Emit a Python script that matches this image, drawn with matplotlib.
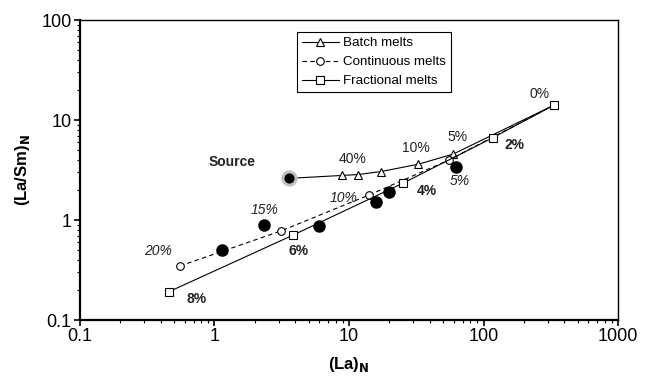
import matplotlib.pyplot as plt
from matplotlib.ticker import LogLocator, NullFormatter, FuncFormatter

plt.rcParams['font.family'] = ['Liberation Sans', 'DejaVu Sans']

# model curves, (La)N vs (La/Sm)N
batch_x = [3.58, 8.83, 11.7, 17.2, 32.7, 59.6, 334]
batch_y = [2.61, 2.79, 2.85, 3.05, 3.61, 4.57, 14.1]

cont_x = [0.553, 3.11, 14.1, 55.4, 334]
cont_y = [0.347, 0.776, 1.78, 3.98, 14.1]

frac_x = [0.459, 3.85, 25.1, 117, 334]
frac_y = [0.192, 0.708, 2.33, 6.65, 14.1]

# observed samples
obs_x = [1.13, 2.35, 6.02, 15.9, 19.8, 62.1]
obs_y = [0.505, 0.897, 0.871, 1.50, 1.92, 3.41]

source_x = [3.58]
source_y = [2.61]

# percent labels: (text, x, y, weight, style)
labels = [
    ("Source", 1.35, 3.8, 'bold', 'normal'),
    ("40%", 10.66, 4.05, 'normal', 'normal'),
    ("10%", 31.5, 5.28, 'normal', 'normal'),
    ("5%", 63.8, 6.81, 'normal', 'normal'),
    ("0%", 263, 18.1, 'normal', 'normal'),
    ("2%", 169, 5.62, 'bold', 'normal'),
    ("5%", 66.1, 2.45, 'normal', 'italic'),
    ("4%", 37.8, 1.95, 'bold', 'normal'),
    ("10%", 9.18, 1.65, 'normal', 'italic'),
    ("15%", 2.37, 1.26, 'normal', 'italic'),
    ("20%", 0.382, 0.493, 'normal', 'italic'),
    ("6%", 4.25, 0.493, 'bold', 'normal'),
    ("8%", 0.738, 0.161, 'bold', 'normal'),
]

fig = plt.figure(figsize=(6.46, 3.78), dpi=100)
ax = fig.add_axes([0.1238, 0.1534, 0.8329, 0.7936])

ax.plot(batch_x, batch_y, '-', color='black', lw=0.8, marker='^', ms=5.5,
        mfc='white', mec='black', mew=0.8, label='Batch melts', zorder=3)
ax.plot(cont_x, cont_y, '--', color='black', lw=0.8, marker='o', ms=5.5,
        mfc='white', mec='black', mew=0.8, label='Continuous melts', zorder=3,
        dashes=(4, 3))
ax.plot(frac_x, frac_y, '-', color='black', lw=0.8, marker='s', ms=5.5,
        mfc='white', mec='black', mew=0.8, label='Fractional melts', zorder=3)

ax.plot(obs_x, obs_y, 'o', color='black', ms=8, zorder=4)
ax.plot(source_x, source_y, 'o', mfc='black', mec='#c0c0c0', mew=2.2, ms=9.5, zorder=5)

for txt, x, y, w, s in labels:
    ax.text(x, y, txt, fontsize=10, fontweight=w, fontstyle=s,
            ha='center', va='center', color='#222222')

ax.set_xscale('log')
ax.set_yscale('log')
ax.set_xlim(0.1, 1000)
ax.set_ylim(0.1, 100)

fmt = FuncFormatter(lambda v, _: f'{v:g}')
ax.xaxis.set_major_formatter(fmt)
ax.yaxis.set_major_formatter(fmt)
ax.xaxis.set_minor_locator(LogLocator(base=10, subs=range(2, 10), numticks=20))
ax.yaxis.set_minor_locator(LogLocator(base=10, subs=range(2, 10), numticks=20))
ax.xaxis.set_minor_formatter(NullFormatter())
ax.yaxis.set_minor_formatter(NullFormatter())

ax.tick_params(which='major', direction='out', length=4, width=1.2, labelsize=13, pad=2)
ax.tick_params(which='minor', direction='out', length=2.5, width=0.8)
ax.tick_params(top=False, right=False, which='both')

ax.spines['left'].set_linewidth(1.6)
ax.spines['bottom'].set_linewidth(1.6)
ax.spines['top'].set_linewidth(1.0)
ax.spines['right'].set_linewidth(1.0)

ax.set_xlabel(r'(La)$_\mathbf{N}$', fontsize=12, fontweight='bold', labelpad=7)
ax.set_ylabel(r'(La/Sm)$_\mathbf{N}$', fontsize=12, fontweight='bold', labelpad=7)

leg = ax.legend(loc='upper center', bbox_to_anchor=(0.546, 0.959), fontsize=9.6,
                frameon=True, fancybox=False, edgecolor='black', framealpha=1,
                handlelength=2.8, handletextpad=0.3, labelspacing=0.5,
                borderpad=0.35, borderaxespad=0)
leg.get_frame().set_linewidth(0.8)

fig.savefig('out.png', dpi=100)
